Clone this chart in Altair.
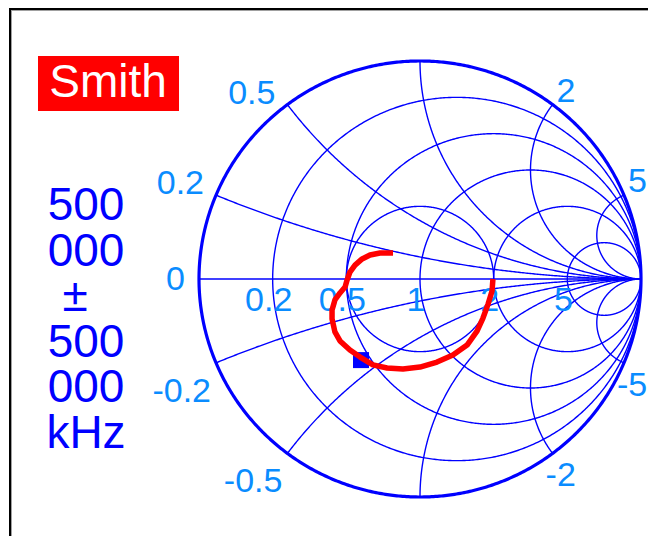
import numpy as np
import pandas as pd
import altair as alt

# ---------------- data ----------------
resistance_values = [0.2, 0.5, 1, 2, 5]          # constant-r circles
reactance_values = [0.2, 0.5, 1, 2, 5]           # constant-x arcs (drawn as +x and -x)
vswr_values = [2]                                 # constant-VSWR circle
reactance_labels = [0.5, 0.2, 0, -0.2, -0.5, 2, 5, -5, -2]
resistance_labels = [0.2, 0.5, 1, 2, 5]

trace_re = [-0.122, -0.181, -0.226, -0.262, -0.294, -0.317, -0.330, -0.339, -0.362,
            -0.385, -0.398, -0.398, -0.385, -0.362, -0.317, -0.271, -0.213, -0.149,
            -0.077, 0.000, 0.077, 0.149, 0.213, 0.258, 0.285, 0.308, 0.326, 0.330]
trace_im = [0.119, 0.119, 0.110, 0.092, 0.064, 0.032, -0.005, -0.037, -0.064,
            -0.096, -0.142, -0.183, -0.243, -0.284, -0.326, -0.358, -0.394, -0.408,
            -0.413, -0.404, -0.381, -0.349, -0.303, -0.239, -0.179, -0.115, -0.055, 0.000]
marker_re = [-0.267]
marker_im = [-0.372]

title_text = "Smith"
freq_lines = ["500", "000", "±", "500", "000", "kHz"]

# ---------------- Smith-chart geometry ----------------
GRID = "#0000FF"
LABEL = "#0A8CFF"
rows = []


def add_curve(cid, re, im):
    for i, (a, b) in enumerate(zip(re, im)):
        rows.append(dict(cid=cid, i=i, re=float(a), im=float(b)))


t = np.linspace(0, 2 * np.pi, 721)
for r in resistance_values:
    c, rad = r / (1 + r), 1 / (1 + r)
    add_curve(f"r{r}", c + rad * np.cos(t), rad * np.sin(t))

for x in reactance_values:
    er, ei = (x * x - 1) / (x * x + 1), 2 * x / (x * x + 1)
    cy, rad = 1 / x, 1 / x
    th0 = np.arctan2(ei - cy, er - 1)
    if th0 < 0:
        th0 += 2 * np.pi
    th = np.linspace(th0, 1.5 * np.pi, 300)
    are, aim = 1 + rad * np.cos(th), cy + rad * np.sin(th)
    add_curve(f"x{x}", are, aim)
    add_curve(f"x-{x}", are, -aim)

for s in vswr_values:
    g = (s - 1) / (s + 1)
    add_curve(f"s{s}", g * np.cos(t), g * np.sin(t))

add_curve("axis", [-1, 1], [0, 0])
grid_df = pd.DataFrame(rows)
outer_df = pd.DataFrame(dict(i=range(len(t)), re=np.cos(t), im=np.sin(t)))

xs = alt.Scale(domain=[-1.8643, 1.0317], nice=False, zero=False)
ys = alt.Scale(domain=[-1.1789, 1.2431], nice=False, zero=False)
X = alt.X("re:Q", scale=xs, axis=None)
Y = alt.Y("im:Q", scale=ys, axis=None)

grid = alt.Chart(grid_df).mark_line(color=GRID, strokeWidth=1.4).encode(
    x=X, y=Y, detail="cid:N", order="i:Q")
outer = alt.Chart(outer_df).mark_line(color=GRID, strokeWidth=3.2).encode(
    x=X, y=Y, order="i:Q")

# reactance labels, anchored at the arc end on the unit circle
label_font = "Liberation Sans, Arial, sans-serif"
FS = 34
lab = []
for v in reactance_labels:
    er, ei = (v * v - 1) / (v * v + 1), 2 * v / (v * v + 1)
    side = "L" if er < 0 else "R"
    vert = "U" if ei > 0.01 else ("D" if ei < -0.01 else "M")
    lab.append(dict(re=er, im=ei, txt=f"{v:g}", grp=side + vert))
lab_df = pd.DataFrame(lab)
group_style = {
    "LU": dict(align="right", baseline="alphabetic", dx=-12, dy=-1),
    "LM": dict(align="right", baseline="middle", dx=-14, dy=1),
    "LD": dict(align="right", baseline="top", dx=-5, dy=12),
    "RU": dict(align="left", baseline="alphabetic", dx=4, dy=-3),
    "RD": dict(align="left", baseline="top", dx=-7, dy=6),
}
x_label_layers = []
for grp, sub in lab_df.groupby("grp"):
    x_label_layers.append(
        alt.Chart(sub).mark_text(font=label_font, fontSize=FS, color=LABEL,
                                 **group_style[grp]).encode(x=X, y=Y, text="txt:N"))

r_df = pd.DataFrame(dict(re=[(r - 1) / (r + 1) for r in resistance_labels],
                         im=[0.0] * len(resistance_labels),
                         txt=[f"{r:g}" for r in resistance_labels]))
r_labels = alt.Chart(r_df).mark_text(align="center", baseline="top", dy=5, dx=-4,
                                     font=label_font, fontSize=FS,
                                     color=LABEL).encode(x=X, y=Y, text="txt:N")

marker = alt.Chart(pd.DataFrame(dict(re=marker_re, im=marker_im))).mark_square(
    size=256, color="#0000FF", opacity=1).encode(x=X, y=Y)

trace_df = pd.DataFrame(dict(i=range(len(trace_re)), re=trace_re, im=trace_im))
trace = alt.Chart(trace_df).mark_line(color="#FF0000", strokeWidth=5.5,
                                      strokeJoin="round").encode(x=X, y=Y, order="i:Q")

# ---------------- annotations ----------------
one = pd.DataFrame({"a": [0]})
frame_top = alt.Chart(one).mark_rule(color="#000000", strokeWidth=2).encode(
    x=alt.value(1), x2=alt.value(640), y=alt.value(1))
frame_top2 = alt.Chart(one).mark_rule(color="#A0A0A0", strokeWidth=1).encode(
    x=alt.value(2), x2=alt.value(640), y=alt.value(2.5))
frame_left = alt.Chart(one).mark_rule(color="#000000", strokeWidth=2).encode(
    x=alt.value(2), y=alt.value(0), y2=alt.value(528))
frame_left2 = alt.Chart(one).mark_rule(color="#A0A0A0", strokeWidth=1).encode(
    x=alt.value(3.5), y=alt.value(2), y2=alt.value(528))

title_box = alt.Chart(one).mark_rect(color="#FF0000").encode(
    x=alt.value(30), x2=alt.value(171), y=alt.value(48), y2=alt.value(103))
title = alt.Chart(one).mark_text(text=title_text, color="#FFFFFF", fontSize=46,
                                 font="Liberation Sans", align="center",
                                 baseline="alphabetic").encode(
    x=alt.value(100), y=alt.value(89))

freq_layers = []
for k, s in enumerate(freq_lines):
    xpos = 67 if s == "±" else 78
    freq_layers.append(
        alt.Chart(one).mark_text(text=s, color="#0000FF", fontSize=46,
                                 font="Liberation Sans", align="center",
                                 baseline="alphabetic").encode(
            x=alt.value(xpos), y=alt.value(212 + k * 45.6)))

chart = alt.layer(
    grid, outer, *x_label_layers, r_labels, marker, trace,
    frame_top, frame_top2, frame_left, frame_left2, title_box, title, *freq_layers
).properties(
    width=640, height=528, autosize=alt.AutoSizeParams(type="none"), padding=0,
    background="#FFFFFF"
).configure_view(stroke=None)

chart.save("out.html", embed_options={"renderer": "svg", "actions": False})
